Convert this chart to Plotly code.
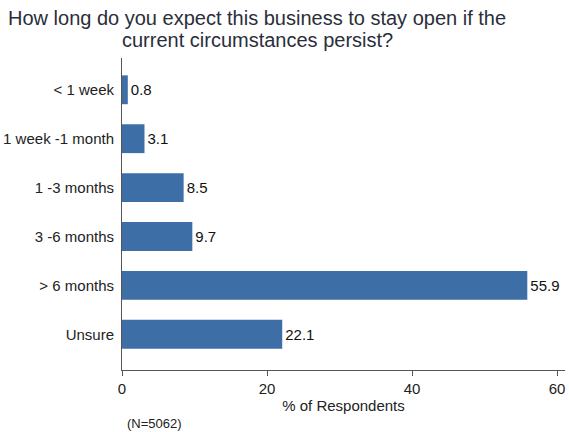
import plotly.graph_objects as go

# Survey categories and share of respondents (%)
categories = ["< 1 week", "1 week -1 month", "1 -3 months", "3 -6 months", "> 6 months", "Unsure"]
values = [0.8, 3.1, 8.5, 9.7, 55.9, 22.1]
value_labels = ["0.8", "3.1", "8.5", "9.7", "55.9", "22.1"]
x_ticks = [0, 20, 40, 60]
title_lines = ["How long do you expect this business to stay open if the",
               "current circumstances persist?"]

fig = go.Figure(go.Bar(
    x=values,
    y=categories,
    orientation="h",
    marker=dict(color="#3d6ea6", line=dict(width=0)),
    text=value_labels,
    textposition="outside",
    textfont=dict(size=15, color="#111"),
    cliponaxis=False,
    width=0.59,
))

fig.update_layout(
    width=569, height=432,
    margin=dict(l=122, r=4, t=58, b=62),
    paper_bgcolor="white", plot_bgcolor="white",
    font=dict(family="Liberation Sans, Arial", color="#222"),
    showlegend=False,
)

fig.update_xaxes(
    range=[0, 61.1], tickvals=x_ticks, showgrid=False, zeroline=False,
    showline=True, linecolor="#555", linewidth=1, automargin=False,
    ticks="outside", ticklen=5, tickcolor="#555",
    tickfont=dict(size=15, color="#222"),
    title=dict(text="% of Respondents", font=dict(size=15, color="#222"), standoff=4),
)
fig.update_yaxes(
    range=[5.73, -0.65], showgrid=False, zeroline=False,
    showline=True, linecolor="#555", linewidth=1, automargin=False,
    ticks="", ticklabelstandoff=4,
    tickfont=dict(size=15, color="#222"),
)

# title drawn as two lines to get the tighter line spacing of the original
for line, ypos in zip(title_lines, [1.128, 1.058]):
    fig.add_annotation(
        text=line, xref="paper", yref="paper", x=0.305, y=ypos,
        xanchor="center", yanchor="middle", showarrow=False,
        font=dict(size=20, color="#2a2e3a"),
    )

fig.add_annotation(
    text="(N=5062)", xref="paper", yref="paper", x=0.007, y=-0.14,
    xanchor="left", yanchor="top", showarrow=False,
    font=dict(size=13, color="#222"),
)

# drop the default page margin so the figure sits at the window's corner
fig.write_html("out.html", config={"displayModeBar": False},
               post_script="document.body.style.margin='0';")
